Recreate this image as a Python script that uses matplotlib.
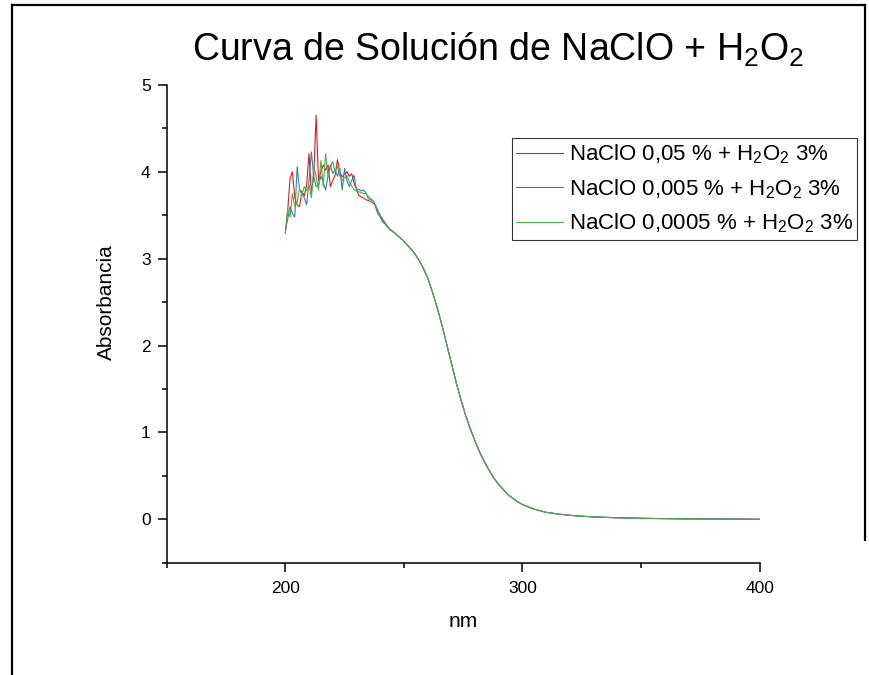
import numpy as np
import matplotlib
matplotlib.use("Agg")
import matplotlib.pyplot as plt
from matplotlib.lines import Line2D
from matplotlib.ticker import MultipleLocator

plt.rcParams['font.family'] = ['Liberation Sans', 'DejaVu Sans']
plt.rcParams['mathtext.fontset'] = 'custom'
plt.rcParams['mathtext.rm'] = 'Liberation Sans'
plt.rcParams['mathtext.it'] = 'Liberation Sans:italic'
plt.rcParams['mathtext.bf'] = 'Liberation Sans:bold'

# noisy part of the spectra, 200-244 nm every 1 nm
nm_head = np.arange(200, 245)
red_head = [3.30, 3.55, 3.92, 4.00, 3.70, 3.62, 3.60, 3.78, 3.72, 3.85,
            4.21, 3.75, 3.95, 4.65, 3.90, 4.00, 4.08, 4.02, 4.08, 3.83,
            3.90, 3.96, 4.14, 4.00, 3.94, 3.98, 4.00, 3.95, 3.98, 3.87,
            3.80, 3.73, 3.71, 3.70, 3.68, 3.67, 3.66, 3.64, 3.62, 3.55,
            3.50, 3.45, 3.41, 3.37, 3.34]
blue_head = [3.32, 3.45, 3.60, 3.52, 3.48, 4.06, 3.80, 3.75, 3.70, 3.62,
             3.90, 4.23, 3.95, 3.83, 3.85, 3.95, 3.88, 3.79, 3.95, 4.08,
             3.98, 4.02, 3.95, 4.04, 3.79, 4.04, 3.90, 3.83, 3.90, 3.96,
             3.79, 3.80, 3.78, 3.79, 3.76, 3.69, 3.68, 3.67, 3.60, 3.52,
             3.48, 3.42, 3.40, 3.37, 3.34]
green_head = [3.29, 3.56, 3.48, 3.75, 3.60, 3.65, 3.81, 3.74, 3.83, 3.78,
              3.85, 3.70, 4.06, 3.95, 3.79, 4.13, 3.83, 4.21, 3.94, 4.05,
              4.12, 4.00, 4.06, 3.95, 3.90, 3.93, 3.96, 3.88, 3.84, 3.79,
              3.78, 3.77, 3.76, 3.75, 3.75, 3.72, 3.69, 3.67, 3.62, 3.56,
              3.50, 3.46, 3.42, 3.38, 3.33]

# smooth part, where the three curves lie on top of each other
nm_tail = [246, 248, 250, 252, 254, 256, 258, 260, 262, 264, 266, 268, 270,
           272, 274, 276, 278, 280, 282, 284, 286, 288, 290, 292, 294, 296,
           298, 300, 305, 310, 315, 320, 325, 330, 340, 350, 360, 370, 380,
           390, 400]
abs_tail = [3.30, 3.25, 3.20, 3.14, 3.08, 3.00, 2.90, 2.78, 2.62, 2.44,
            2.24, 2.02, 1.80, 1.58, 1.38, 1.20, 1.04, 0.90, 0.77, 0.66,
            0.56, 0.47, 0.40, 0.34, 0.28, 0.24, 0.20, 0.17, 0.115, 0.08,
            0.06, 0.045, 0.035, 0.027, 0.017, 0.011, 0.007, 0.004, 0.003,
            0.002, 0.0]

labels = [r'NaClO 0,05 % + H$_2$O$_2$ 3%',
          r'NaClO 0,005 % + H$_2$O$_2$ 3%',
          r'NaClO 0,0005 % + H$_2$O$_2$ 3%']
colors = ['#e41a1c', '#377eb8', '#4daf4a']

nm = np.concatenate([nm_head, nm_tail])
series = [np.concatenate([h, abs_tail]) for h in (red_head, blue_head, green_head)]

fig = plt.figure(figsize=(8.7, 6.75), dpi=100)
ax = fig.add_axes([0.1916, 0.1664, 0.6816, 0.7077])

for y, c, lab in zip(series, colors, labels):
    ax.plot(nm, y, color=c, lw=0.8, label=lab)

ax.set_xlim(150, 400)
ax.set_ylim(-0.5, 5)
ax.xaxis.set_minor_locator(MultipleLocator(50))
ax.yaxis.set_major_locator(MultipleLocator(1))
ax.yaxis.set_minor_locator(MultipleLocator(0.5))
ax.set_xticks([200, 300, 400])
ax.tick_params(which='major', length=6.5, width=1.1, labelsize=12.5, pad=5)
ax.tick_params(which='minor', length=3.4, width=1.1)
ax.tick_params(axis='x', which='major', pad=6.5)
for s in ['top', 'right']:
    ax.spines[s].set_visible(False)
for s in ['left', 'bottom']:
    ax.spines[s].set_linewidth(1.1)

ax.set_xlabel('nm', fontsize=15, labelpad=12)
ax.set_ylabel('Absorbancia', fontsize=15)
ax.yaxis.set_label_coords(-0.085, 0.545)

fig.text(0.572, 0.926, r'Curva de Solución de NaClO + H$_2$O$_2$',
         fontsize=27, ha='center', va='center')

leg = ax.legend(loc='upper left', bbox_to_anchor=(0.5885, 0.7956),
                bbox_transform=fig.transFigure, fontsize=16, frameon=True,
                fancybox=False, borderpad=0.2, borderaxespad=0,
                handlelength=2.1, handletextpad=0.25, labelspacing=0.5)
leg.get_frame().set_edgecolor('black')
leg.get_frame().set_linewidth(0.8)

# border of the pasted picture
fig.add_artist(Line2D([0.014, 0.014], [0.0, 0.993], color='black', lw=1.6))
fig.add_artist(Line2D([0.014, 0.994], [0.993, 0.993], color='black', lw=1.6))
fig.add_artist(Line2D([0.994, 0.994], [0.993, 0.2], color='black', lw=1.6))

fig.savefig('out.png', dpi=100)
